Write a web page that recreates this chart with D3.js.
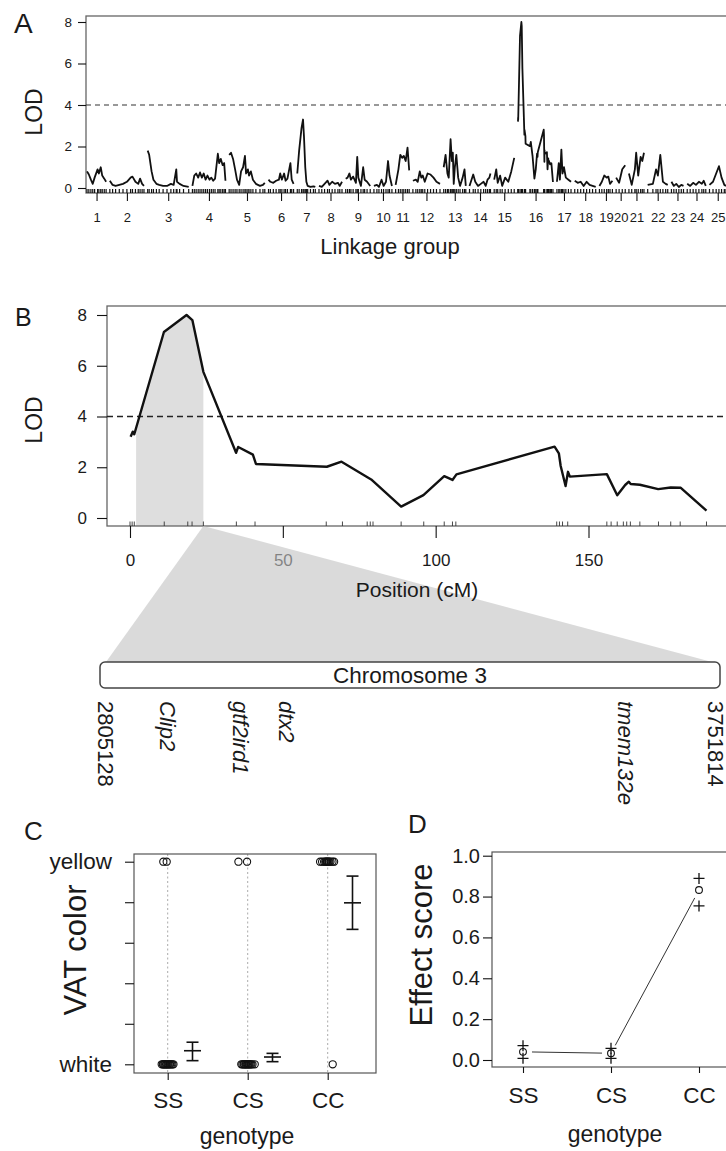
<!DOCTYPE html>
<html>
<head>
<meta charset="utf-8">
<script src="https://cdn.jsdelivr.net/npm/d3@7"></script>
<style>
  body { margin: 0; background: #fff; }
  svg text { font-family: "Liberation Sans", Arial, Helvetica, sans-serif; fill: #1a1a1a; }
</style>
</head>
<body>
<div id="chart"></div>
<script>
// ---------------- data ----------------
// panel A: genome scan, one [cM, LOD] list per linkage group
var chrNames = ["1","2","3","4","5","6","7","8","9","10","11","12","13","14","15","16","17","18","19","20","21","22","23","24","25"];
var chrLengths = [103,184,221,178,192,135,97,124,132,97,73,146,119,113,108,190,76,113,70,49,81,108,65,100,89];
var chrGap = 20;
var lodThreshold = 4;

var chrLod = [
  [[0,0.8],[10,0.65],[21,0.4],[31,0.2],[41,0.5],[57,0.9],[64,0.7],[74,1.0],[82,0.6],[93,0.45],[103,0.3]],
  [[0,0.35],[15,0.15],[31,0.1],[51,0.15],[71,0.2],[92,0.3],[112,0.5],[122,0.55],[138,0.3],[153,0.2],[163,0.45],[174,0.2],[184,0.1]],
  [[0,1.8],[8,1.6],[21,0.8],[31,0.4],[47,0.2],[62,0.15],[83,0.1],[104,0.1],[125,0.2],[140,0.15],[154,0.9],[158,0.3],[172,0.2],[193,0.1],[221,0.05]],
  [[0,0.1],[10,0.6],[20,0.7],[31,0.5],[41,0.75],[51,0.5],[61,0.7],[71,0.4],[81,0.6],[92,0.4],[102,0.5],[112,0.35],[122,0.45],[137,1.65],[144,1.2],[153,1.4],[163,1.1],[171,1.2],[178,0.35]],
  [[0,1.6],[10,1.7],[21,1.4],[32,0.9],[42,0.4],[54,0.15],[64,0.8],[75,1.0],[85,1.55],[91,0.7],[101,0.9],[107,0.6],[117,0.8],[128,0.4],[144,0.2],[166,0.1],[182,0.15],[192,0.25]],
  [[0,0.4],[10,0.3],[26,0.25],[41,0.35],[56,0.4],[63,0.7],[72,0.4],[84,0.7],[92,0.35],[102,0.45],[118,1.2],[125,0.4],[135,0.2]],
  [[0,0.7],[10,1.8],[23,2.9],[31,3.3],[36,2.5],[43,1.0],[49,0.3],[56,0.1],[71,0.05],[87,0.08],[97,0.05]],
  [[0,0.1],[15,0.05],[30,0.2],[46,0.35],[56,0.15],[71,0.3],[86,0.2],[102,0.25],[112,0.1],[124,0.3]],
  [[0,0.45],[10,0.5],[20,0.7],[28,0.4],[40,0.55],[55,0.25],[62,1.5],[68,0.5],[82,0.1],[94,1.0],[102,0.4],[115,0.3],[132,0.1]],
  [[0,0.1],[16,0.15],[27,0.05],[41,0.4],[52,0.1],[65,0.3],[76,1.3],[84,0.6],[97,0.1]],
  [[0,0.15],[15,0.9],[25,1.6],[35,1.45],[44,1.55],[54,1.3],[64,1.95],[73,0.85]],
  [[0,0.35],[16,0.4],[26,0.3],[37,0.8],[45,0.5],[53,0.6],[64,0.3],[79,0.7],[95,0.65],[111,0.5],[127,0.3],[146,0.2]],
  [[0,1.0],[10,1.6],[20,0.7],[27,0.5],[37,2.35],[44,1.3],[49,1.7],[54,0.2],[60,1.0],[68,1.6],[78,0.5],[88,0.1],[102,0.5],[112,0.9],[119,0.1]],
  [[0,0.1],[20,0.65],[31,0.3],[46,0.1],[61,0.2],[76,0.3],[87,0.1],[97,0.4],[107,0.5],[113,0.7]],
  [[0,0.4],[11,0.9],[19,0.25],[32,0.6],[43,0.1],[59,0.5],[76,0.3],[92,0.8],[108,1.45]],
  null, // linkage group 16 = panel B scan
  [[0,0.3],[10,1.2],[16,0.4],[24,1.85],[30,0.7],[38,1.0],[48,0.5],[62,0.4],[76,0.3]],
  [[0,0.35],[16,0.25],[32,0.3],[48,0.1],[64,0.3],[80,0.15],[96,0.1],[113,0.05]],
  [[0,0.1],[13,0.3],[26,0.6],[39,0.5],[48,0.55],[57,0.2],[70,0.35]],
  [[0,0.5],[16,0.25],[33,0.9],[49,1.1]],
  [[0,0.7],[15,0.15],[32,0.9],[39,1.7],[50,0.6],[63,1.5],[72,1.3],[81,1.7]],
  [[0,0.15],[28,0.2],[45,0.9],[55,0.6],[68,1.6],[82,0.3],[97,0.2],[108,0.15]],
  [[0,0.3],[13,0.1],[26,0.2],[40,0.05],[53,0.15],[65,0.1]],
  [[0,0.2],[16,0.1],[32,0.25],[47,0.15],[63,0.3],[79,0.2],[89,0.35],[100,0.1]],
  [[0,0.15],[19,0.3],[36,0.7],[51,1.05],[65,0.5],[80,0.15],[89,0.1]]
];

// panel B: scan of the QTL linkage group
var qtlPos = [0.2,0.9,1.4,11.1,18.5,20.4,24,34.7,35.4,40.2,41.2,64.4,69.2,78.9,88.7,96,102.8,105.5,106.8,138.9,140.3,140.9,142.5,143.3,143.9,156,159.4,162,163.2,163.8,166.8,172.8,176.9,180.2,188.6];
var qtlLod = [3.2,3.4,3.3,7.33,8.0,7.8,5.76,2.57,2.8,2.5,2.13,2.02,2.22,1.52,0.45,0.9,1.65,1.5,1.72,2.81,2.55,2.05,1.26,1.82,1.63,1.73,0.9,1.3,1.43,1.34,1.31,1.14,1.2,1.19,0.29];
var markerPos = [0,0.7,1.4,11.2,18.9,20.3,24,34.8,40.9,64.2,69.5,77.6,78.6,79.5,88.7,96.1,102.8,105.5,106.6,139.6,140.5,141.5,143.2,156,157.4,159.4,161.4,162.5,163.7,166.8,172.9,176.9,180,188.6];
var intervalLo = 2, intervalHi = 24;
var posTicks = [0,50,100,150];

// chromosome region
var chromName = "Chromosome 3";
var bpStart = 2805128, bpEnd = 3751814;
var genes = ["Clip2","gtf2ird1","dtx2","tmem132e"];
var geneBp = [2901350,3014643,3087580,3612140];

// panel C: VAT colour per genotype (0 = white, 1 = yellow), jitter in genotype units
var genotypes = ["SS","CS","CC"];
var vatTicks = [0,0.2,0.4,0.6,0.8,1];
var vatJitterWhite = [
  [-0.075,-0.06,-0.052,-0.04,-0.031,-0.02,-0.012,0.0,0.008,0.021,0.03,0.044,0.058,0.072],
  [-0.08,-0.066,-0.05,-0.043,-0.03,-0.022,-0.01,0.0,0.012,0.02,0.033,0.045,0.06,0.088],
  [0.0625]
];
var vatJitterYellow = [
  [-0.055,-0.0125],
  [-0.116,-0.008],
  [-0.095,-0.07,-0.045,-0.03,-0.02,-0.01,0.0,0.01,0.02,0.035,0.06,0.08]
];
var vatMean = [0.067,0.036,0.797];
var vatLo = [0.018,0.013,0.666];
var vatHi = [0.109,0.054,0.929];

// panel D: effect score
var effTicks = [0,0.2,0.4,0.6,0.8,1.0];
var effMean = [0.04,0.033,0.832];
var effLo = [0.008,0.008,0.754];
var effHi = [0.07,0.057,0.889];

// ---------------- drawing ----------------
var W = 726, H = 1151;
var ink = "#111";

var svg = d3.select("#chart").append("svg")
    .attr("width", W)
    .attr("height", H);
svg.append("rect").attr("width", W).attr("height", H).attr("fill", "#fff");

function styleAxis(g, size) {
  g.selectAll("path").attr("stroke", ink).attr("stroke-width", 1.1);
  g.selectAll("line").attr("stroke", ink).attr("stroke-width", 1.1);
  g.selectAll("text").attr("fill", "#1a1a1a")
    .style("font-size", size + "px")
    .attr("font-family", null);
}

function title(txt, x, y, size, rot) {
  var t = svg.append("text")
    .attr("text-anchor", "middle")
    .style("font-size", size + "px")
    .text(txt);
  if (rot) t.attr("transform", "translate(" + x + "," + y + ") rotate(" + rot + ")");
  else t.attr("x", x).attr("y", y);
  return t;
}

function panelLabel(txt, x, y, size) {
  svg.append("text").attr("x", x).attr("y", y)
    .style("font-size", size + "px").text(txt);
}

// ===== Panel A =====
var chrStart = [];
var acc = 0;
chrLengths.forEach(function(L, i) {
  chrStart.push(acc);
  acc += L + (i < chrLengths.length - 1 ? chrGap : 0);
});
var genomeLen = acc;

chrLod[15] = qtlPos.map(function(p, i) { return [p, qtlLod[i]]; });

var boxA = {l: 86, t: 16, b: 193};
var xA = d3.scaleLinear().domain([0, genomeLen]).range([87, 726]);
var yA = d3.scaleLinear().domain([0, 8]).range([188, 22]);

svg.append("rect")
  .attr("x", boxA.l).attr("y", boxA.t)
  .attr("width", 760 - boxA.l).attr("height", boxA.b - boxA.t)
  .attr("fill", "none").attr("stroke", "#666").attr("stroke-width", 1.3);

svg.append("line")
  .attr("x1", boxA.l).attr("x2", 760)
  .attr("y1", yA(lodThreshold)).attr("y2", yA(lodThreshold))
  .attr("stroke", "#333").attr("stroke-width", 1.2)
  .attr("stroke-dasharray", "5,4");

var lineA = d3.line()
  .x(function(d) { return d[0]; })
  .y(function(d) { return yA(d[1]); });

chrLod.forEach(function(pts, i) {
  var off = chrStart[i];
  var xy = pts.map(function(d) { return [xA(off + d[0]), d[1]]; });
  svg.append("path")
    .attr("d", lineA(xy))
    .attr("fill", "none").attr("stroke", ink)
    .attr("stroke-width", 1.8).attr("stroke-linejoin", "round");
  svg.selectAll(".rugA" + i)
    .data(pts)
    .enter().append("line")
      .attr("class", "rugA" + i)
      .attr("x1", function(d) { return xA(off + d[0]); })
      .attr("x2", function(d) { return xA(off + d[0]); })
      .attr("y1", boxA.b - 4).attr("y2", boxA.b)
      .attr("stroke", ink).attr("stroke-width", 1.2);
});

var gAy = svg.append("g")
  .attr("transform", "translate(" + boxA.l + ",0)")
  .call(d3.axisLeft(yA).tickValues([0,2,4,6,8]).tickSize(8).tickSizeOuter(0).tickPadding(6));
gAy.select(".domain").remove();
styleAxis(gAy, 13.5);

var chrMid = chrNames.map(function(n, i) { return chrStart[i] + chrLengths[i] / 2; });
var gAx = svg.append("g")
  .attr("transform", "translate(0," + boxA.b + ")")
  .call(d3.axisBottom(xA).tickValues(chrMid).tickSize(8).tickPadding(12)
    .tickFormat(function(d, i) { return chrNames[i]; }));
gAx.select(".domain").remove();
styleAxis(gAx, 13);

panelLabel("A", 14, 33, 28);
title("LOD", 42, 112, 23, -90);
title("Linkage group", 390, 254, 22);

// ===== Panel B =====
var boxB = {l: 107, t: 306, b: 526};
var xB = d3.scaleLinear().domain([0, 150]).range([130, 588.5]);
var yB = d3.scaleLinear().domain([0, 8]).range([518, 315]);

var qtl = qtlPos.map(function(p, i) { return [p, qtlLod[i]]; });

// shaded support interval under the curve
function lodAt(p) {
  for (var i = 1; i < qtl.length; i++) {
    if (qtl[i][0] >= p) {
      var a = qtl[i - 1], b = qtl[i];
      return a[1] + (b[1] - a[1]) * (p - a[0]) / (b[0] - a[0]);
    }
  }
  return qtl[qtl.length - 1][1];
}
var shade = [[intervalLo, lodAt(intervalLo)]]
  .concat(qtl.filter(function(d) { return d[0] > intervalLo && d[0] < intervalHi; }))
  .concat([[intervalHi, lodAt(intervalHi)]]);

svg.append("path")
  .attr("d", d3.area()
    .x(function(d) { return xB(d[0]); })
    .y0(boxB.b)
    .y1(function(d) { return yB(d[1]); })(shade))
  .attr("fill", "#dedede");

svg.append("rect")
  .attr("x", boxB.l).attr("y", boxB.t)
  .attr("width", 760 - boxB.l).attr("height", boxB.b - boxB.t)
  .attr("fill", "none").attr("stroke", "#666").attr("stroke-width", 1.3);

svg.append("line")
  .attr("x1", boxB.l).attr("x2", 760)
  .attr("y1", yB(lodThreshold)).attr("y2", yB(lodThreshold))
  .attr("stroke", "#222").attr("stroke-width", 1.4)
  .attr("stroke-dasharray", "6,4");

svg.append("path")
  .attr("d", d3.line()
    .x(function(d) { return xB(d[0]); })
    .y(function(d) { return yB(d[1]); })(qtl))
  .attr("fill", "none").attr("stroke", ink)
  .attr("stroke-width", 2.4).attr("stroke-linejoin", "round");

svg.selectAll(".rugB")
  .data(markerPos)
  .enter().append("line")
    .attr("class", "rugB")
    .attr("x1", function(d) { return xB(d); })
    .attr("x2", function(d) { return xB(d); })
    .attr("y1", boxB.b - 4.5).attr("y2", boxB.b)
    .attr("stroke", "#333").attr("stroke-width", 0.9);

var gBy = svg.append("g")
  .attr("transform", "translate(" + boxB.l + ",0)")
  .call(d3.axisLeft(yB).tickValues([0,2,4,6,8]).tickSize(10).tickSizeOuter(0).tickPadding(10));
gBy.select(".domain").remove();
styleAxis(gBy, 17);

var gBx = svg.append("g")
  .attr("transform", "translate(0," + boxB.b + ")")
  .call(d3.axisBottom(xB).tickValues(posTicks).tickSize(12).tickPadding(16));
gBx.select(".domain").remove();
styleAxis(gBx, 17);

// chromosome bar and zoom wedge
var bar = {x: 100, y: 662, w: 620, h: 26};
svg.append("path")
  .attr("d", "M" + xB(intervalHi) + "," + boxB.b +
             "L" + (bar.x + 6) + "," + bar.y +
             "L" + (bar.x + bar.w - 8) + "," + bar.y + "Z")
  .attr("fill", "#c4c4c4").attr("fill-opacity", 0.62);

panelLabel("B", 15, 326, 25);
title("LOD", 42, 420, 23, -90);
title("Position (cM)", 417, 597, 21);

svg.append("rect")
  .attr("x", bar.x).attr("y", bar.y)
  .attr("width", bar.w).attr("height", bar.h)
  .attr("rx", 5).attr("ry", 5)
  .attr("fill", "#fff").attr("stroke", "#444").attr("stroke-width", 1.5);
title(chromName, bar.x + bar.w / 2, bar.y + 21, 22.5);

var xBp = d3.scaleLinear().domain([bpStart, bpEnd]).range([105, 715]);
var bpLabels = [{t: String(bpStart), bp: bpStart, it: false}]
  .concat(genes.map(function(g, i) { return {t: g, bp: geneBp[i], it: true}; }))
  .concat([{t: String(bpEnd), bp: bpEnd, it: false}]);

svg.selectAll(".bp")
  .data(bpLabels)
  .enter().append("text")
    .attr("class", "bp")
    .attr("transform", function(d) { return "translate(" + xBp(d.bp) + ",701) rotate(90)"; })
    .attr("dominant-baseline", "central")
    .style("font-size", "22px")
    .style("font-style", function(d) { return d.it ? "italic" : "normal"; })
    .text(function(d) { return d.t; });

// ===== Panel C =====
var boxC = {l: 134, t: 854, r: 376, b: 1073};
var xC = d3.scalePoint().domain(genotypes).range([167.7, 327.7]);
var stepC = xC.step();
var yC = d3.scaleLinear().domain([0, 1]).range([1064.3, 861.7]);

genotypes.forEach(function(g) {
  svg.append("line")
    .attr("x1", xC(g)).attr("x2", xC(g))
    .attr("y1", boxC.t).attr("y2", boxC.b)
    .attr("stroke", "#aaa").attr("stroke-width", 1)
    .attr("stroke-dasharray", "2,2.5");
});

svg.append("rect")
  .attr("x", boxC.l).attr("y", boxC.t)
  .attr("width", boxC.r - boxC.l).attr("height", boxC.b - boxC.t)
  .attr("fill", "none").attr("stroke", "#555").attr("stroke-width", 1.2);

function vatDots(jit, val) {
  genotypes.forEach(function(g, gi) {
    svg.selectAll(".dot" + val + g)
      .data(jit[gi])
      .enter().append("circle")
        .attr("class", "dot" + val + g)
        .attr("cx", function(j) { return xC(g) + j * stepC; })
        .attr("cy", yC(val))
        .attr("r", 3.6)
        .attr("fill", "none").attr("stroke", ink).attr("stroke-width", 1.1);
  });
}
vatDots(vatJitterWhite, 0);
vatDots(vatJitterYellow, 1);

var ebOff = 0.31 * stepC;
genotypes.forEach(function(g, i) {
  var x = xC(g) + ebOff;
  var eb = svg.append("g").attr("stroke", ink).attr("stroke-width", 1.6);
  eb.append("line").attr("x1", x).attr("x2", x).attr("y1", yC(vatLo[i])).attr("y2", yC(vatHi[i]));
  eb.append("line").attr("x1", x - 6).attr("x2", x + 6).attr("y1", yC(vatLo[i])).attr("y2", yC(vatLo[i]));
  eb.append("line").attr("x1", x - 6).attr("x2", x + 6).attr("y1", yC(vatHi[i])).attr("y2", yC(vatHi[i]));
  eb.append("line").attr("x1", x - 8.5).attr("x2", x + 8.5).attr("y1", yC(vatMean[i])).attr("y2", yC(vatMean[i]));
});

var gCy = svg.append("g")
  .attr("transform", "translate(" + boxC.l + ",0)")
  .call(d3.axisLeft(yC).tickValues(vatTicks).tickSize(9).tickSizeOuter(0).tickPadding(13)
    .tickFormat(function(d) { return d === 0 ? "white" : (d === 1 ? "yellow" : ""); }));
gCy.select(".domain").remove();
styleAxis(gCy, 22.5);

var gCx = svg.append("g")
  .attr("transform", "translate(0," + boxC.b + ")")
  .call(d3.axisBottom(xC).tickSize(7).tickPadding(12));
gCx.select(".domain").remove();
styleAxis(gCx, 22.5);

panelLabel("C", 24, 840, 26);
title("VAT color", 86, 950, 31, -90);
title("genotype", 247, 1144, 23);

// ===== Panel D =====
var boxD = {l: 492, t: 852, b: 1067};
var xD = d3.scalePoint().domain(genotypes).range([523, 699]);
var yD = d3.scaleLinear().domain([0, 1]).range([1060, 855.7]);

svg.append("rect")
  .attr("x", boxD.l).attr("y", boxD.t)
  .attr("width", 760 - boxD.l).attr("height", boxD.b - boxD.t)
  .attr("fill", "none").attr("stroke", "#555").attr("stroke-width", 1.2);

// connecting line with gaps around the points (type "b")
var gap = 9;
for (var i = 0; i < genotypes.length - 1; i++) {
  var x1 = xD(genotypes[i]), y1 = yD(effMean[i]);
  var x2 = xD(genotypes[i + 1]), y2 = yD(effMean[i + 1]);
  var len = Math.sqrt((x2 - x1) * (x2 - x1) + (y2 - y1) * (y2 - y1));
  var ux = (x2 - x1) / len, uy = (y2 - y1) / len;
  svg.append("line")
    .attr("x1", x1 + ux * gap).attr("y1", y1 + uy * gap)
    .attr("x2", x2 - ux * gap).attr("y2", y2 - uy * gap)
    .attr("stroke", "#333").attr("stroke-width", 1);
}

svg.selectAll(".effPt")
  .data(effMean)
  .enter().append("circle")
    .attr("class", "effPt")
    .attr("cx", function(d, i) { return xD(genotypes[i]); })
    .attr("cy", function(d) { return yD(d); })
    .attr("r", 3.4)
    .attr("fill", "none").attr("stroke", ink).attr("stroke-width", 1.1);

var plus = "M-5.5,0H5.5M0,-5.5V5.5";
svg.selectAll(".effCi")
  .data(effLo.map(function(v, i) { return [i, v]; }).concat(effHi.map(function(v, i) { return [i, v]; })))
  .enter().append("path")
    .attr("class", "effCi")
    .attr("transform", function(d) { return "translate(" + xD(genotypes[d[0]]) + "," + yD(d[1]) + ")"; })
    .attr("d", plus)
    .attr("stroke", ink).attr("stroke-width", 1.3).attr("fill", "none");

var gDy = svg.append("g")
  .attr("transform", "translate(" + boxD.l + ",0)")
  .call(d3.axisLeft(yD).tickValues(effTicks).tickSize(9).tickSizeOuter(0).tickPadding(3)
    .tickFormat(d3.format(".1f")));
gDy.select(".domain").remove();
styleAxis(gDy, 20);

var gDx = svg.append("g")
  .attr("transform", "translate(0," + boxD.b + ")")
  .call(d3.axisBottom(xD).tickSize(6).tickPadding(14));
gDx.select(".domain").remove();
styleAxis(gDx, 22.5);

panelLabel("D", 408, 833, 26);
title("Effect score", 432, 945, 31, -90);
title("genotype", 615, 1142, 23);
</script>
</body>
</html>
